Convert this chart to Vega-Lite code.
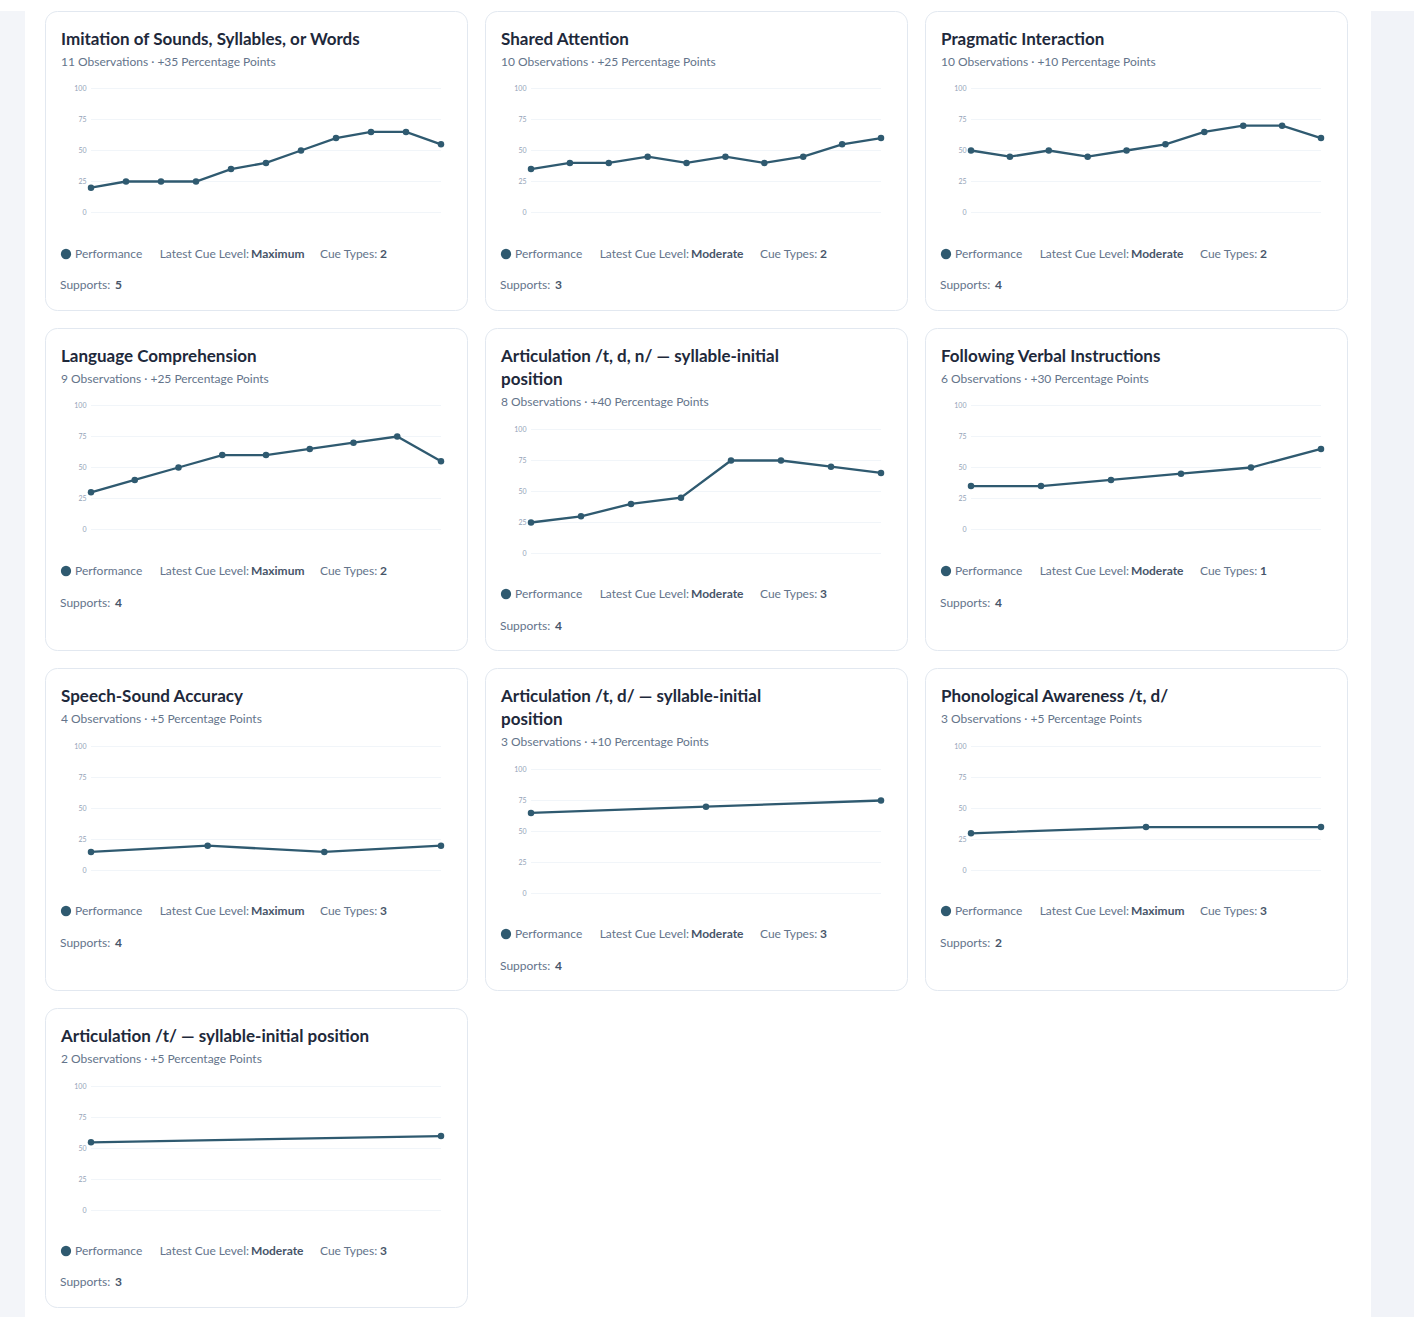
{
  "$schema": "https://vega.github.io/schema/vega-lite/v6.json",
  "background": "white",
  "padding": {"left": 0, "top": 10, "right": 0, "bottom": 0},
  "config": {
    "font": "Lato",
    "view": {"stroke": "#e2e8f0", "fill": "white", "cornerRadius": 12},
    "title": {"anchor": "start", "frame": "group", "dx": 16, "offset": -58, "fontSize": 17, "fontWeight": "bold", "color": "#1e293b", "subtitleFontSize": 12, "subtitleColor": "#64748b", "subtitlePadding": 8, "lineHeight": 23},
    "axisY": {"domain": false, "ticks": false, "grid": false, "labelFontSize": 7, "labelColor": "#94a3b8", "offset": -45, "labelPadding": 4},
    "line": {"color": "#2f5a70", "strokeWidth": 2.3},
    "text": {"fontSize": 12, "color": "#64748b", "align": "left", "baseline": "middle"},
    "legend": {"orient": "none", "legendX": 15, "legendY": 237, "title": null, "labelFontSize": 12, "labelColor": "#64748b", "symbolType": "circle", "symbolSize": 64, "labelOffset": 3, "padding": 0}
  },
  "datasets": {
    "grid": [{"v": 0}, {"v": 25}, {"v": 50}, {"v": 75}, {"v": 100}],
    "meta": [
      {"card": 1, "cue": "Maximum", "types": 2, "supports": 5},
      {"card": 2, "cue": "Moderate", "types": 2, "supports": 3},
      {"card": 3, "cue": "Moderate", "types": 2, "supports": 4},
      {"card": 4, "cue": "Maximum", "types": 2, "supports": 4},
      {"card": 5, "cue": "Moderate", "types": 3, "supports": 4},
      {"card": 6, "cue": "Moderate", "types": 1, "supports": 4},
      {"card": 7, "cue": "Maximum", "types": 3, "supports": 4},
      {"card": 8, "cue": "Moderate", "types": 3, "supports": 4},
      {"card": 9, "cue": "Maximum", "types": 3, "supports": 2},
      {"card": 10, "cue": "Moderate", "types": 3, "supports": 3}
    ],
    "series": [
      {"card": 1, "obs": 1, "pct": 20}, {"card": 1, "obs": 2, "pct": 25}, {"card": 1, "obs": 3, "pct": 25}, {"card": 1, "obs": 4, "pct": 25}, {"card": 1, "obs": 5, "pct": 35}, {"card": 1, "obs": 6, "pct": 40}, {"card": 1, "obs": 7, "pct": 50}, {"card": 1, "obs": 8, "pct": 60}, {"card": 1, "obs": 9, "pct": 65}, {"card": 1, "obs": 10, "pct": 65}, {"card": 1, "obs": 11, "pct": 55},
      {"card": 2, "obs": 1, "pct": 35}, {"card": 2, "obs": 2, "pct": 40}, {"card": 2, "obs": 3, "pct": 40}, {"card": 2, "obs": 4, "pct": 45}, {"card": 2, "obs": 5, "pct": 40}, {"card": 2, "obs": 6, "pct": 45}, {"card": 2, "obs": 7, "pct": 40}, {"card": 2, "obs": 8, "pct": 45}, {"card": 2, "obs": 9, "pct": 55}, {"card": 2, "obs": 10, "pct": 60},
      {"card": 3, "obs": 1, "pct": 50}, {"card": 3, "obs": 2, "pct": 45}, {"card": 3, "obs": 3, "pct": 50}, {"card": 3, "obs": 4, "pct": 45}, {"card": 3, "obs": 5, "pct": 50}, {"card": 3, "obs": 6, "pct": 55}, {"card": 3, "obs": 7, "pct": 65}, {"card": 3, "obs": 8, "pct": 70}, {"card": 3, "obs": 9, "pct": 70}, {"card": 3, "obs": 10, "pct": 60},
      {"card": 4, "obs": 1, "pct": 30}, {"card": 4, "obs": 2, "pct": 40}, {"card": 4, "obs": 3, "pct": 50}, {"card": 4, "obs": 4, "pct": 60}, {"card": 4, "obs": 5, "pct": 60}, {"card": 4, "obs": 6, "pct": 65}, {"card": 4, "obs": 7, "pct": 70}, {"card": 4, "obs": 8, "pct": 75}, {"card": 4, "obs": 9, "pct": 55},
      {"card": 5, "obs": 1, "pct": 25}, {"card": 5, "obs": 2, "pct": 30}, {"card": 5, "obs": 3, "pct": 40}, {"card": 5, "obs": 4, "pct": 45}, {"card": 5, "obs": 5, "pct": 75}, {"card": 5, "obs": 6, "pct": 75}, {"card": 5, "obs": 7, "pct": 70}, {"card": 5, "obs": 8, "pct": 65},
      {"card": 6, "obs": 1, "pct": 35}, {"card": 6, "obs": 2, "pct": 35}, {"card": 6, "obs": 3, "pct": 40}, {"card": 6, "obs": 4, "pct": 45}, {"card": 6, "obs": 5, "pct": 50}, {"card": 6, "obs": 6, "pct": 65},
      {"card": 7, "obs": 1, "pct": 15}, {"card": 7, "obs": 2, "pct": 20}, {"card": 7, "obs": 3, "pct": 15}, {"card": 7, "obs": 4, "pct": 20},
      {"card": 8, "obs": 1, "pct": 65}, {"card": 8, "obs": 2, "pct": 70}, {"card": 8, "obs": 3, "pct": 75},
      {"card": 9, "obs": 1, "pct": 30}, {"card": 9, "obs": 2, "pct": 35}, {"card": 9, "obs": 3, "pct": 35},
      {"card": 10, "obs": 1, "pct": 55}, {"card": 10, "obs": 2, "pct": 60}
    ]
  },
  "spacing": 19,
  "resolve": {"scale": {"color": "independent"}},
  "hconcat": [
    {"width": 25, "height": 1307, "view": {"fill": "#f3f5f9", "stroke": null, "cornerRadius": 0}, "data": {"values": []}, "mark": "rect"},
    {
      "spacing": 23,
      "resolve": {"scale": {"color": "independent"}},
      "hconcat": [
        {
          "spacing": 16,
          "resolve": {"scale": {"color": "independent"}},
          "vconcat": [
            {
              "spacing": 16,
              "resolve": {"scale": {"color": "independent"}},
              "hconcat": [
                {
                  "width": 422, "height": 299,
                  "title": {"text": "Imitation of Sounds, Syllables, or Words", "subtitle": "11 Observations · +35 Percentage Points"},
                  "layer": [
                    {"data": {"name": "grid"}, "mark": {"type": "rule", "color": "#f1f5f9"}, "encoding": {"y": {"field": "v", "type": "quantitative", "scale": {"domain": [-78.63, 162.5], "nice": false, "zero": false}, "axis": {"values": [0, 25, 50, 75, 100], "title": null}}, "x": {"datum": 1, "type": "quantitative", "scale": {"domain": [-0.3143, 11.7429], "nice": false, "zero": false}, "axis": null}, "x2": {"datum": 11}}},
                    {"data": {"name": "series"}, "transform": [{"filter": "datum.card == 1"}], "mark": {"type": "line", "point": {"filled": true, "size": 42}}, "encoding": {"x": {"field": "obs", "type": "quantitative"}, "y": {"field": "pct", "type": "quantitative"}, "color": {"datum": "Performance", "type": "nominal", "scale": {"range": ["#2f5a70"]}}}},
                    {"data": {"name": "meta"}, "transform": [{"filter": "datum.card == 1"}], "layer": [
                      {"mark": {"type": "text", "text": "Latest Cue Level:", "x": 204, "y": 243, "align": "right"}},
                      {"mark": {"type": "text", "x": 206, "y": 243, "fontWeight": "bold", "color": "#475569"}, "encoding": {"text": {"field": "cue"}}},
                      {"mark": {"type": "text", "text": "Cue Types:", "x": 275, "y": 243}},
                      {"mark": {"type": "text", "x": 335, "y": 243, "fontWeight": "bold", "color": "#475569"}, "encoding": {"text": {"field": "types"}}},
                      {"mark": {"type": "text", "text": "Supports:", "x": 15, "y": 274}},
                      {"mark": {"type": "text", "x": 70, "y": 274, "fontWeight": "bold", "color": "#475569"}, "encoding": {"text": {"field": "supports"}}}
                    ]}
                  ]
                },
                {
                  "width": 422, "height": 299,
                  "title": {"text": "Shared Attention", "subtitle": "10 Observations · +25 Percentage Points"},
                  "layer": [
                    {"data": {"name": "grid"}, "mark": {"type": "rule", "color": "#f1f5f9"}, "encoding": {"y": {"field": "v", "type": "quantitative", "scale": {"domain": [-78.63, 162.5], "nice": false, "zero": false}, "axis": {"values": [0, 25, 50, 75, 100], "title": null}}, "x": {"datum": 1, "type": "quantitative", "scale": {"domain": [-0.1829, 10.6686], "nice": false, "zero": false}, "axis": null}, "x2": {"datum": 10}}},
                    {"data": {"name": "series"}, "transform": [{"filter": "datum.card == 2"}], "mark": {"type": "line", "point": {"filled": true, "size": 42}}, "encoding": {"x": {"field": "obs", "type": "quantitative"}, "y": {"field": "pct", "type": "quantitative"}, "color": {"datum": "Performance", "type": "nominal", "scale": {"range": ["#2f5a70"]}}}},
                    {"data": {"name": "meta"}, "transform": [{"filter": "datum.card == 2"}], "layer": [
                      {"mark": {"type": "text", "text": "Latest Cue Level:", "x": 204, "y": 243, "align": "right"}},
                      {"mark": {"type": "text", "x": 206, "y": 243, "fontWeight": "bold", "color": "#475569"}, "encoding": {"text": {"field": "cue"}}},
                      {"mark": {"type": "text", "text": "Cue Types:", "x": 275, "y": 243}},
                      {"mark": {"type": "text", "x": 335, "y": 243, "fontWeight": "bold", "color": "#475569"}, "encoding": {"text": {"field": "types"}}},
                      {"mark": {"type": "text", "text": "Supports:", "x": 15, "y": 274}},
                      {"mark": {"type": "text", "x": 70, "y": 274, "fontWeight": "bold", "color": "#475569"}, "encoding": {"text": {"field": "supports"}}}
                    ]}
                  ]
                },
                {
                  "width": 422, "height": 299,
                  "title": {"text": "Pragmatic Interaction", "subtitle": "10 Observations · +10 Percentage Points"},
                  "layer": [
                    {"data": {"name": "grid"}, "mark": {"type": "rule", "color": "#f1f5f9"}, "encoding": {"y": {"field": "v", "type": "quantitative", "scale": {"domain": [-78.63, 162.5], "nice": false, "zero": false}, "axis": {"values": [0, 25, 50, 75, 100], "title": null}}, "x": {"datum": 1, "type": "quantitative", "scale": {"domain": [-0.1829, 10.6686], "nice": false, "zero": false}, "axis": null}, "x2": {"datum": 10}}},
                    {"data": {"name": "series"}, "transform": [{"filter": "datum.card == 3"}], "mark": {"type": "line", "point": {"filled": true, "size": 42}}, "encoding": {"x": {"field": "obs", "type": "quantitative"}, "y": {"field": "pct", "type": "quantitative"}, "color": {"datum": "Performance", "type": "nominal", "scale": {"range": ["#2f5a70"]}}}},
                    {"data": {"name": "meta"}, "transform": [{"filter": "datum.card == 3"}], "layer": [
                      {"mark": {"type": "text", "text": "Latest Cue Level:", "x": 204, "y": 243, "align": "right"}},
                      {"mark": {"type": "text", "x": 206, "y": 243, "fontWeight": "bold", "color": "#475569"}, "encoding": {"text": {"field": "cue"}}},
                      {"mark": {"type": "text", "text": "Cue Types:", "x": 275, "y": 243}},
                      {"mark": {"type": "text", "x": 335, "y": 243, "fontWeight": "bold", "color": "#475569"}, "encoding": {"text": {"field": "types"}}},
                      {"mark": {"type": "text", "text": "Supports:", "x": 15, "y": 274}},
                      {"mark": {"type": "text", "x": 70, "y": 274, "fontWeight": "bold", "color": "#475569"}, "encoding": {"text": {"field": "supports"}}}
                    ]}
                  ]
                }
              ]
            },
            {
              "spacing": 16,
              "resolve": {"scale": {"color": "independent"}},
              "hconcat": [
                {
                  "width": 422, "height": 322,
                  "title": {"text": "Language Comprehension", "subtitle": "9 Observations · +25 Percentage Points"},
                  "layer": [
                    {"data": {"name": "grid"}, "mark": {"type": "rule", "color": "#f1f5f9"}, "encoding": {"y": {"field": "v", "type": "quantitative", "scale": {"domain": [-97.18, 162.5], "nice": false, "zero": false}, "axis": {"values": [0, 25, 50, 75, 100], "title": null}}, "x": {"datum": 1, "type": "quantitative", "scale": {"domain": [-0.0514, 9.5943], "nice": false, "zero": false}, "axis": null}, "x2": {"datum": 9}}},
                    {"data": {"name": "series"}, "transform": [{"filter": "datum.card == 4"}], "mark": {"type": "line", "point": {"filled": true, "size": 42}}, "encoding": {"x": {"field": "obs", "type": "quantitative"}, "y": {"field": "pct", "type": "quantitative"}, "color": {"datum": "Performance", "type": "nominal", "scale": {"range": ["#2f5a70"]}}}},
                    {"data": {"name": "meta"}, "transform": [{"filter": "datum.card == 4"}], "layer": [
                      {"mark": {"type": "text", "text": "Latest Cue Level:", "x": 204, "y": 243, "align": "right"}},
                      {"mark": {"type": "text", "x": 206, "y": 243, "fontWeight": "bold", "color": "#475569"}, "encoding": {"text": {"field": "cue"}}},
                      {"mark": {"type": "text", "text": "Cue Types:", "x": 275, "y": 243}},
                      {"mark": {"type": "text", "x": 335, "y": 243, "fontWeight": "bold", "color": "#475569"}, "encoding": {"text": {"field": "types"}}},
                      {"mark": {"type": "text", "text": "Supports:", "x": 15, "y": 275}},
                      {"mark": {"type": "text", "x": 70, "y": 275, "fontWeight": "bold", "color": "#475569"}, "encoding": {"text": {"field": "supports"}}}
                    ]}
                  ]
                },
                {
                  "width": 422, "height": 322,
                  "title": {"text": ["Articulation /t, d, n/ — syllable-initial", "position"], "subtitle": "8 Observations · +40 Percentage Points", "offset": -81},
                  "layer": [
                    {"data": {"name": "grid"}, "mark": {"type": "rule", "color": "#f1f5f9"}, "encoding": {"y": {"field": "v", "type": "quantitative", "scale": {"domain": [-77.82, 181.85], "nice": false, "zero": false}, "axis": {"values": [0, 25, 50, 75, 100], "title": null}}, "x": {"datum": 1, "type": "quantitative", "scale": {"domain": [0.08, 8.52], "nice": false, "zero": false}, "axis": null}, "x2": {"datum": 8}}},
                    {"data": {"name": "series"}, "transform": [{"filter": "datum.card == 5"}], "mark": {"type": "line", "point": {"filled": true, "size": 42}}, "encoding": {"x": {"field": "obs", "type": "quantitative"}, "y": {"field": "pct", "type": "quantitative"}, "color": {"datum": "Performance", "type": "nominal", "scale": {"range": ["#2f5a70"]}, "legend": {"legendY": 260}}}},
                    {"data": {"name": "meta"}, "transform": [{"filter": "datum.card == 5"}], "layer": [
                      {"mark": {"type": "text", "text": "Latest Cue Level:", "x": 204, "y": 266, "align": "right"}},
                      {"mark": {"type": "text", "x": 206, "y": 266, "fontWeight": "bold", "color": "#475569"}, "encoding": {"text": {"field": "cue"}}},
                      {"mark": {"type": "text", "text": "Cue Types:", "x": 275, "y": 266}},
                      {"mark": {"type": "text", "x": 335, "y": 266, "fontWeight": "bold", "color": "#475569"}, "encoding": {"text": {"field": "types"}}},
                      {"mark": {"type": "text", "text": "Supports:", "x": 15, "y": 298}},
                      {"mark": {"type": "text", "x": 70, "y": 298, "fontWeight": "bold", "color": "#475569"}, "encoding": {"text": {"field": "supports"}}}
                    ]}
                  ]
                },
                {
                  "width": 422, "height": 322,
                  "title": {"text": "Following Verbal Instructions", "subtitle": "6 Observations · +30 Percentage Points"},
                  "layer": [
                    {"data": {"name": "grid"}, "mark": {"type": "rule", "color": "#f1f5f9"}, "encoding": {"y": {"field": "v", "type": "quantitative", "scale": {"domain": [-97.18, 162.5], "nice": false, "zero": false}, "axis": {"values": [0, 25, 50, 75, 100], "title": null}}, "x": {"datum": 1, "type": "quantitative", "scale": {"domain": [0.3429, 6.3714], "nice": false, "zero": false}, "axis": null}, "x2": {"datum": 6}}},
                    {"data": {"name": "series"}, "transform": [{"filter": "datum.card == 6"}], "mark": {"type": "line", "point": {"filled": true, "size": 42}}, "encoding": {"x": {"field": "obs", "type": "quantitative"}, "y": {"field": "pct", "type": "quantitative"}, "color": {"datum": "Performance", "type": "nominal", "scale": {"range": ["#2f5a70"]}}}},
                    {"data": {"name": "meta"}, "transform": [{"filter": "datum.card == 6"}], "layer": [
                      {"mark": {"type": "text", "text": "Latest Cue Level:", "x": 204, "y": 243, "align": "right"}},
                      {"mark": {"type": "text", "x": 206, "y": 243, "fontWeight": "bold", "color": "#475569"}, "encoding": {"text": {"field": "cue"}}},
                      {"mark": {"type": "text", "text": "Cue Types:", "x": 275, "y": 243}},
                      {"mark": {"type": "text", "x": 335, "y": 243, "fontWeight": "bold", "color": "#475569"}, "encoding": {"text": {"field": "types"}}},
                      {"mark": {"type": "text", "text": "Supports:", "x": 15, "y": 275}},
                      {"mark": {"type": "text", "x": 70, "y": 275, "fontWeight": "bold", "color": "#475569"}, "encoding": {"text": {"field": "supports"}}}
                    ]}
                  ]
                }
              ]
            },
            {
              "spacing": 16,
              "resolve": {"scale": {"color": "independent"}},
              "hconcat": [
                {
                  "width": 422, "height": 322,
                  "title": {"text": "Speech-Sound Accuracy", "subtitle": "4 Observations · +5 Percentage Points"},
                  "layer": [
                    {"data": {"name": "grid"}, "mark": {"type": "rule", "color": "#f1f5f9"}, "encoding": {"y": {"field": "v", "type": "quantitative", "scale": {"domain": [-96.37, 163.31], "nice": false, "zero": false}, "axis": {"values": [0, 25, 50, 75, 100], "title": null}}, "x": {"datum": 1, "type": "quantitative", "scale": {"domain": [0.6057, 4.2229], "nice": false, "zero": false}, "axis": null}, "x2": {"datum": 4}}},
                    {"data": {"name": "series"}, "transform": [{"filter": "datum.card == 7"}], "mark": {"type": "line", "point": {"filled": true, "size": 42}}, "encoding": {"x": {"field": "obs", "type": "quantitative"}, "y": {"field": "pct", "type": "quantitative"}, "color": {"datum": "Performance", "type": "nominal", "scale": {"range": ["#2f5a70"]}}}},
                    {"data": {"name": "meta"}, "transform": [{"filter": "datum.card == 7"}], "layer": [
                      {"mark": {"type": "text", "text": "Latest Cue Level:", "x": 204, "y": 243, "align": "right"}},
                      {"mark": {"type": "text", "x": 206, "y": 243, "fontWeight": "bold", "color": "#475569"}, "encoding": {"text": {"field": "cue"}}},
                      {"mark": {"type": "text", "text": "Cue Types:", "x": 275, "y": 243}},
                      {"mark": {"type": "text", "x": 335, "y": 243, "fontWeight": "bold", "color": "#475569"}, "encoding": {"text": {"field": "types"}}},
                      {"mark": {"type": "text", "text": "Supports:", "x": 15, "y": 275}},
                      {"mark": {"type": "text", "x": 70, "y": 275, "fontWeight": "bold", "color": "#475569"}, "encoding": {"text": {"field": "supports"}}}
                    ]}
                  ]
                },
                {
                  "width": 422, "height": 322,
                  "title": {"text": ["Articulation /t, d/ — syllable-initial", "position"], "subtitle": "3 Observations · +10 Percentage Points", "offset": -81},
                  "layer": [
                    {"data": {"name": "grid"}, "mark": {"type": "rule", "color": "#f1f5f9"}, "encoding": {"y": {"field": "v", "type": "quantitative", "scale": {"domain": [-77.82, 181.85], "nice": false, "zero": false}, "axis": {"values": [0, 25, 50, 75, 100], "title": null}}, "x": {"datum": 1, "type": "quantitative", "scale": {"domain": [0.7371, 3.1486], "nice": false, "zero": false}, "axis": null}, "x2": {"datum": 3}}},
                    {"data": {"name": "series"}, "transform": [{"filter": "datum.card == 8"}], "mark": {"type": "line", "point": {"filled": true, "size": 42}}, "encoding": {"x": {"field": "obs", "type": "quantitative"}, "y": {"field": "pct", "type": "quantitative"}, "color": {"datum": "Performance", "type": "nominal", "scale": {"range": ["#2f5a70"]}, "legend": {"legendY": 260}}}},
                    {"data": {"name": "meta"}, "transform": [{"filter": "datum.card == 8"}], "layer": [
                      {"mark": {"type": "text", "text": "Latest Cue Level:", "x": 204, "y": 266, "align": "right"}},
                      {"mark": {"type": "text", "x": 206, "y": 266, "fontWeight": "bold", "color": "#475569"}, "encoding": {"text": {"field": "cue"}}},
                      {"mark": {"type": "text", "text": "Cue Types:", "x": 275, "y": 266}},
                      {"mark": {"type": "text", "x": 335, "y": 266, "fontWeight": "bold", "color": "#475569"}, "encoding": {"text": {"field": "types"}}},
                      {"mark": {"type": "text", "text": "Supports:", "x": 15, "y": 298}},
                      {"mark": {"type": "text", "x": 70, "y": 298, "fontWeight": "bold", "color": "#475569"}, "encoding": {"text": {"field": "supports"}}}
                    ]}
                  ]
                },
                {
                  "width": 422, "height": 322,
                  "title": {"text": "Phonological Awareness /t, d/", "subtitle": "3 Observations · +5 Percentage Points"},
                  "layer": [
                    {"data": {"name": "grid"}, "mark": {"type": "rule", "color": "#f1f5f9"}, "encoding": {"y": {"field": "v", "type": "quantitative", "scale": {"domain": [-96.37, 163.31], "nice": false, "zero": false}, "axis": {"values": [0, 25, 50, 75, 100], "title": null}}, "x": {"datum": 1, "type": "quantitative", "scale": {"domain": [0.7371, 3.1486], "nice": false, "zero": false}, "axis": null}, "x2": {"datum": 3}}},
                    {"data": {"name": "series"}, "transform": [{"filter": "datum.card == 9"}], "mark": {"type": "line", "point": {"filled": true, "size": 42}}, "encoding": {"x": {"field": "obs", "type": "quantitative"}, "y": {"field": "pct", "type": "quantitative"}, "color": {"datum": "Performance", "type": "nominal", "scale": {"range": ["#2f5a70"]}}}},
                    {"data": {"name": "meta"}, "transform": [{"filter": "datum.card == 9"}], "layer": [
                      {"mark": {"type": "text", "text": "Latest Cue Level:", "x": 204, "y": 243, "align": "right"}},
                      {"mark": {"type": "text", "x": 206, "y": 243, "fontWeight": "bold", "color": "#475569"}, "encoding": {"text": {"field": "cue"}}},
                      {"mark": {"type": "text", "text": "Cue Types:", "x": 275, "y": 243}},
                      {"mark": {"type": "text", "x": 335, "y": 243, "fontWeight": "bold", "color": "#475569"}, "encoding": {"text": {"field": "types"}}},
                      {"mark": {"type": "text", "text": "Supports:", "x": 15, "y": 275}},
                      {"mark": {"type": "text", "x": 70, "y": 275, "fontWeight": "bold", "color": "#475569"}, "encoding": {"text": {"field": "supports"}}}
                    ]}
                  ]
                }
              ]
            },
            {
              "spacing": 16,
              "resolve": {"scale": {"color": "independent"}},
              "hconcat": [
                {
                  "width": 422, "height": 299,
                  "title": {"text": "Articulation /t/ — syllable-initial position", "subtitle": "2 Observations · +5 Percentage Points"},
                  "layer": [
                    {"data": {"name": "grid"}, "mark": {"type": "rule", "color": "#f1f5f9"}, "encoding": {"y": {"field": "v", "type": "quantitative", "scale": {"domain": [-77.82, 163.31], "nice": false, "zero": false}, "axis": {"values": [0, 25, 50, 75, 100], "title": null}}, "x": {"datum": 1, "type": "quantitative", "scale": {"domain": [0.8686, 2.0743], "nice": false, "zero": false}, "axis": null}, "x2": {"datum": 2}}},
                    {"data": {"name": "series"}, "transform": [{"filter": "datum.card == 10"}], "mark": {"type": "line", "point": {"filled": true, "size": 42}}, "encoding": {"x": {"field": "obs", "type": "quantitative"}, "y": {"field": "pct", "type": "quantitative"}, "color": {"datum": "Performance", "type": "nominal", "scale": {"range": ["#2f5a70"]}}}},
                    {"data": {"name": "meta"}, "transform": [{"filter": "datum.card == 10"}], "layer": [
                      {"mark": {"type": "text", "text": "Latest Cue Level:", "x": 204, "y": 243, "align": "right"}},
                      {"mark": {"type": "text", "x": 206, "y": 243, "fontWeight": "bold", "color": "#475569"}, "encoding": {"text": {"field": "cue"}}},
                      {"mark": {"type": "text", "text": "Cue Types:", "x": 275, "y": 243}},
                      {"mark": {"type": "text", "x": 335, "y": 243, "fontWeight": "bold", "color": "#475569"}, "encoding": {"text": {"field": "types"}}},
                      {"mark": {"type": "text", "text": "Supports:", "x": 15, "y": 274}},
                      {"mark": {"type": "text", "x": 70, "y": 274, "fontWeight": "bold", "color": "#475569"}, "encoding": {"text": {"field": "supports"}}}
                    ]}
                  ]
                }
              ]
            }
          ]
        },
        {"width": 45, "height": 1307, "view": {"fill": "#f1f3f8", "stroke": null, "cornerRadius": 0}, "data": {"values": []}, "mark": "rect"}
      ]
    }
  ]
}
